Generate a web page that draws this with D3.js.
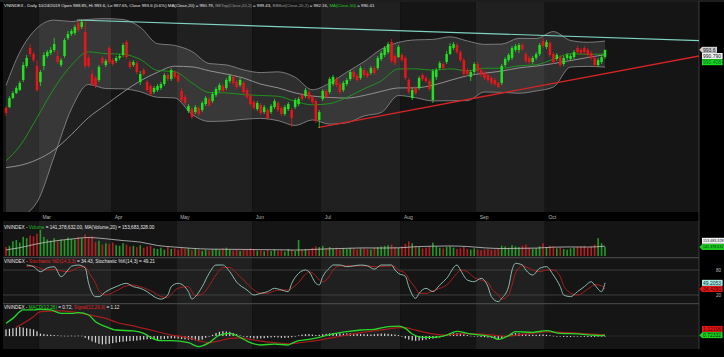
<!DOCTYPE html>
<html><head><meta charset="utf-8">
<script src="https://cdn.jsdelivr.net/npm/d3@7"></script>
<style>html,body{margin:0;padding:0;background:#000;}svg{display:block;font-family:"Liberation Sans",Arial,sans-serif;}</style>
</head><body><svg id="c" width="724" height="357"></svg>
<script>
// ---------- DATA (VNINDEX daily, 15 Feb 2019 .. 24 Oct 2019, index = trading day) ----------
const open=[955.0,955.6,961.6,964.9,966.9,973.6,982.9,994.8,990.8,982.9,972.2,982.9,989.5,991.5,993.5,989.5,983.5,989.5,1001.4,1004.1,1004.7,1011.4,1008.7,1005.4,988.2,977.5,974.9,973.6,988.2,983.5,994.8,986.8,986.2,988.2,990.2,998.8,985.5,983.5,984.8,972.2,980.2,972.2,969.6,965.6,966.9,968.3,970.9,976.9,974.2,978.9,976.9,966.3,962.3,953.0,954.3,952.3,955.0,953.7,957.6,961.0,959.6,963.6,966.9,969.6,968.3,972.9,975.6,972.2,970.2,971.6,966.9,962.9,959.0,954.3,957.0,952.3,953.7,952.3,955.6,958.3,955.0,951.0,954.3,953.7,955.6,957.6,963.6,962.9,965.6,962.3,959.6,947.0,961.0,966.3,965.6,970.9,974.2,970.9,966.9,970.9,974.2,978.9,976.2,974.9,980.2,978.2,978.2,981.5,981.5,987.5,990.2,992.1,998.8,989.5,988.8,990.2,988.2,973.6,961.6,968.3,968.3,976.9,974.9,972.9,960.3,975.6,981.5,984.2,985.5,990.8,994.8,996.8,992.1,986.8,980.2,975.6,978.9,984.2,980.2,978.2,976.9,974.9,973.6,971.6,971.6,983.5,986.8,988.2,993.5,993.5,996.8,990.8,988.2,985.5,988.2,990.8,999.4,995.5,998.1,990.8,987.5,988.8,984.2,988.2,987.5,988.8,994.8,993.5,994.8,993.5,991.5,988.2,983.5,985.5,988.85];
const high=[956.3,962.9,966.3,969.6,972.9,985.5,990.2,997.4,992.1,986.8,980.2,992.1,993.5,995.5,1001.4,993.5,988.2,1001.4,1006.1,1007.4,1010.1,1013.4,1014.0,1012.1,990.2,980.2,976.2,983.5,989.5,987.5,996.1,988.2,989.5,990.8,998.1,1000.1,986.8,986.8,986.2,979.5,981.5,973.6,970.9,969.6,970.9,972.2,978.2,978.2,981.5,980.2,978.2,968.3,963.6,957.6,955.6,957.0,956.3,959.6,962.9,962.3,965.6,968.9,971.6,970.9,974.9,977.5,976.9,973.6,974.9,972.9,968.3,964.3,960.3,959.6,958.3,957.0,955.0,957.6,961.0,959.6,956.3,957.0,959.0,955.0,961.6,962.3,964.9,968.3,966.9,963.6,961.0,953.7,967.6,967.6,975.6,976.9,975.6,972.2,972.9,974.9,980.2,980.2,977.5,982.9,981.5,979.5,982.9,982.9,989.5,992.8,996.1,998.8,1000.8,990.8,996.8,991.5,989.5,974.9,968.3,969.6,976.2,978.2,976.2,974.2,980.9,981.5,986.2,985.5,992.8,998.1,998.8,998.1,993.5,988.2,981.5,980.2,985.5,985.5,981.5,979.5,978.2,976.2,974.9,972.2,984.2,988.8,991.5,996.1,997.4,998.1,998.1,992.1,989.5,989.5,992.1,998.1,1001.4,1000.1,999.4,992.1,991.5,990.2,989.5,991.5,990.8,993.5,996.1,994.8,996.1,994.8,992.8,989.5,988.2,990.2,993.6];
const low=[949.7,955.0,961.0,964.3,966.3,972.2,981.5,988.8,985.5,965.6,969.6,980.2,988.2,990.2,992.1,984.2,982.2,988.2,1000.1,1002.8,1003.4,1005.4,1007.4,981.5,981.5,969.6,968.3,972.2,983.5,982.2,984.2,982.9,984.8,986.8,988.8,987.5,980.9,982.2,977.5,970.2,976.2,965.6,962.9,964.3,965.6,966.9,969.6,972.9,972.9,974.2,971.6,959.0,957.0,951.7,947.7,951.0,949.7,952.3,956.3,955.6,958.3,962.3,965.6,964.9,966.9,971.6,970.2,967.6,968.9,964.3,961.0,956.3,953.7,953.0,950.3,951.0,947.0,951.0,954.3,952.3,949.7,949.7,953.0,942.4,954.3,956.3,959.6,961.6,960.3,957.6,945.0,941.7,959.6,961.0,964.3,969.6,968.9,964.3,965.6,969.6,972.9,974.2,972.2,973.6,975.6,974.9,976.9,976.9,980.2,986.2,988.8,990.8,984.8,983.5,988.2,985.5,973.6,964.3,960.3,963.6,966.9,972.9,971.6,966.3,958.3,973.6,980.2,980.2,984.2,990.2,993.5,990.8,985.5,976.2,976.2,972.9,977.5,978.2,975.6,973.6,972.2,970.2,969.6,968.3,970.2,982.2,985.5,986.8,992.1,991.5,992.8,984.8,984.2,984.2,986.8,989.5,994.8,994.1,988.8,984.2,986.2,982.2,982.9,986.8,986.2,987.5,990.8,990.2,990.8,988.8,986.8,982.2,982.2,984.2,987.65];
const close=[951.7,961.6,964.9,968.3,971.6,983.5,988.2,990.8,986.8,966.9,978.9,990.2,992.1,993.5,997.4,985.5,986.8,1000.1,1004.1,1006.1,1008.7,1006.7,1012.1,982.9,982.9,970.9,969.6,982.2,984.8,986.2,985.5,984.2,988.2,989.5,996.8,988.8,982.2,985.5,978.9,977.5,977.5,966.9,964.3,968.3,969.6,970.9,976.9,974.2,980.2,975.6,972.9,960.3,958.3,956.3,949.0,955.6,951.0,958.3,961.6,957.0,964.3,967.6,970.2,966.3,973.6,976.2,971.6,968.9,973.6,965.6,962.3,957.6,955.0,958.3,951.7,955.6,948.4,956.3,959.6,953.7,951.0,955.6,957.6,948.4,960.3,961.0,961.0,966.9,961.6,959.0,946.4,952.3,966.3,962.3,974.2,975.6,970.2,965.6,971.6,973.6,978.9,975.6,973.6,981.5,976.9,976.2,981.5,978.2,988.2,991.5,994.8,997.4,986.2,984.8,995.5,986.8,974.9,965.6,966.9,964.9,974.9,974.2,972.9,967.6,979.5,980.2,984.8,981.5,990.8,996.1,997.4,992.1,986.8,977.5,977.5,978.9,984.2,979.5,976.9,974.9,973.6,971.6,970.9,968.9,982.9,987.5,990.2,994.8,996.1,996.8,994.1,986.2,985.5,988.2,990.8,996.8,996.1,998.8,990.2,985.5,990.2,983.5,988.2,990.2,989.5,992.1,992.1,991.5,992.1,990.2,988.2,983.5,986.8,988.8,993.6];
// volume, millions of shares
const volume=[140,160,230,250,210,300,280,320,310,350,410,300,260,240,280,230,260,250,290,270,260,300,280,340,300,310,220,240,180,200,190,210,170,160,200,180,150,160,140,170,130,150,160,120,110,130,100,140,110,120,100,130,115,120,90,110,100,80,95,85,100,110,90,120,130,95,85,100,80,110,95,120,100,85,90,75,95,80,100,85,90,70,110,95,80,250,100,110,90,130,150,140,160,120,140,110,130,100,120,110,130,120,100,115,120,110,100,130,140,150,160,170,180,140,130,150,190,230,200,160,140,120,130,150,210,150,130,120,140,150,130,110,120,140,110,100,120,100,90,100,110,95,100,120,160,150,130,170,150,140,160,180,130,110,120,150,200,140,160,150,120,130,110,100,120,130,140,150,160,130,150,180,280,200,141.378632];
const monthLabels=["Mar","Apr","May","Jun","Jul","Aug","Sep","Oct"];
const monthStart=[10,31,50,72,92,115,137,157];
// overlays, read every ~5 sessions
const bandIdx=[0,4,9,14,19,24,29,34,39,44,49,54,59,64,69,74,79,84,89,94,99,104,109,114,119,124,129,134,139,144,149,154,159,164,169,174];
const ma20=[920.0,929.7,948.5,968.1,983.4,992.2,991.1,990.7,987.2,979.9,979.1,971.7,965.3,965.0,963.9,963.3,962.8,959.4,957.1,957.9,962.0,967.7,973.0,980.9,981.0,980.1,981.0,979.7,981.4,981.4,983.0,983.7,987.3,991.0,990.6,990.79];
const bbTop=[970.0,992.0,1008.0,1013.3,1012.4,1013.8,1014.3,1013.7,1008.6,997.7,996.5,992.5,984.5,983.6,980.3,978.5,979.0,975.4,967.1,971.5,978.8,985.7,994.0,998.5,1000.2,1000.5,1002.2,999.5,997.2,997.4,1001.2,1001.1,1005.7,999.8,998.6,999.43];
const bbBot=[885.0,883.7,892.5,922.9,954.4,970.6,967.9,967.7,965.8,962.1,961.7,950.9,946.1,946.4,947.5,948.1,946.6,943.4,947.1,944.3,945.2,949.7,952.0,963.3,961.8,959.7,959.8,959.9,965.6,965.4,964.8,966.3,968.9,982.2,982.6,982.16];
const ma50=[915.5,916.9,920.7,927.2,937.4,948.7,957.1,965.5,973.0,978.7,982.7,982.3,979.7,977.5,974.9,970.8,968.4,965.0,962.9,962.0,961.6,963.3,966.0,968.3,968.4,970.1,973.3,976.4,978.1,979.5,981.6,982.8,984.5,986.5,988.5,990.41];
const volMa=[95,130,190,235,266,290,270,242,218,165,140,120,108,105,103,100,98,93,102,113,120,127,125,128,146,154,157,149,128,117,120,124,139,142,140,153.683328];
const trendTeal=[[20.6,1013.4],[201.3,999.7]];
const trendRed=[[90.6,942.0],[201.3,989.5]];
const stochIdx=[6,8,10,12,14,16,18,19,21,23,24,26,27,29,32,35,37,39,41,43,45,47,48,50,53,54,55,57,59,61,63,65,67,70,72,74,76,78,80,82,83,85,87,88,90,91,92,94,95,97,99,101,103,105,107,109,112,113,114,116,117,119,120,122,124,126,128,131,132,134,136,138,140,141,143,144,146,147,148,150,151,153,155,157,159,161,162,164,166,168,170,171,173,174];
const stochK=[92,88,76,85,88,64,80,89,92,85,48,16,16,28,40,48,40,36,28,16,10,20,40,48,28,10,16,40,72,92,92,76,51,32,20,24,28,36,32,28,48,72,80,76,48,44,64,85,92,92,88,90,92,90,82,92,92,80,72,65,40,12,24,36,28,44,60,92,80,56,52,60,40,16,4,12,40,80,96,92,80,68,84,88,68,40,20,16,28,40,52,44,28,49.2053];
const stochD=[88,90,84,80,82,78,76,78,86,88,75,48,30,20,30,42,44,40,34,26,16,14,22,36,40,28,18,22,42,68,86,86,72,48,32,24,24,30,32,32,36,50,70,76,66,56,52,66,80,90,90,90,90,90,88,88,90,88,80,72,58,36,24,24,30,36,44,72,80,76,62,56,50,36,20,10,20,44,72,90,88,80,76,80,80,64,42,25,20,28,40,45,42,34.4291];
const macdIdx=[0,2,5,8,10,13,16,19,21,24,26,29,32,37,40,42,45,48,53,56,59,62,65,68,71,74,78,82,83,85,88,91,95,99,103,107,111,114,116,118,121,124,128,131,134,138,141,143,146,148,153,157,161,166,170,173,174];
const macd=[10.6,14.7,21.7,21.7,22.2,21.7,18.9,18.9,19.4,17.5,11.9,7.8,5.0,4.2,2.2,-1.1,-3.9,-3.9,-5.6,-8.9,-5.6,0.8,2.2,-1.1,-5.6,-7.5,-6.7,-7.5,-6.1,-3.9,-2.8,-1.1,1.7,3.6,5.0,5.6,7.8,8.3,6.4,1.7,-1.1,-1.1,0.8,3.9,2.2,0.8,-0.6,-2.8,0.3,3.6,3.1,4.4,2.2,1.7,0.8,0.3,0.72332];
const signalIdx=[3,8,10,16,21,26,29,32,37,42,48,53,56,59,62,65,68,71,74,78,82,85,88,91,95,99,103,107,111,114,116,118,121,124,128,131,134,138,141,143,146,148,153,157,161,166,170,173,174];
const signal=[7.2,16,20.3,21,19.5,16.5,14.7,11.5,8.5,5.0,0.8,-1.5,-4.0,-5.5,-4.0,-2.0,-1.5,-2.8,-4.2,-5.5,-6.5,-5.8,-4.6,-3.4,-1.3,0.8,2.8,4.2,5.8,7.0,7.0,5.6,3.5,1.8,0.8,1.6,2.0,1.6,0.9,0.2,-0.2,0.7,2.2,3.4,3.1,2.4,1.6,1.2,1.12106];
const hist=[5.5,6.0,6.5,7.0,7.5,7.0,6.5,6.0,5.5,4.0,2.0,1.6,1.2,1.0,0.8,0.5,0.3,0.2,0.2,0.3,0.2,0.3,0.2,-1.5,-3.0,-4.5,-5.5,-6.5,-7.0,-6.8,-6.5,-6.0,-5.5,-5.0,-4.8,-4.5,-4.2,-4.0,-3.8,-3.5,-3.0,-2.8,-2.6,-2.8,-3.0,-2.8,-2.5,-2.2,-2.0,-2.0,-2.2,-2.5,-2.8,-3.0,-3.2,-3.5,-3.8,-3.0,-1.5,-0.5,1.0,2.5,3.5,4.0,3.8,3.5,2.5,1.5,0.5,-0.3,-1.0,-1.5,-2.0,-2.2,-2.0,-1.8,-1.5,-1.2,-1.0,-1.2,-1.5,-1.6,-1.4,-1.0,-0.5,0.5,1.2,1.5,1.6,1.2,0.8,1.0,1.5,1.8,2.2,2.5,2.4,2.2,2.0,2.2,2.3,2.0,1.8,1.6,1.5,1.4,1.3,1.5,1.8,2.0,2.0,1.8,1.5,1.2,0.8,-0.5,-2.0,-3.0,-3.8,-4.0,-3.8,-3.5,-3.0,-2.6,-2.2,-1.8,-1.2,-0.5,0.5,1.5,2.2,2.5,2.2,1.5,0.8,0.2,-0.3,-0.5,-0.8,-1.0,-1.2,-1.5,-2.0,-2.5,-1.8,-0.5,0.8,1.8,2.5,2.2,1.8,1.5,1.2,1.0,1.0,1.2,1.3,1.0,0.6,0.2,-0.2,-0.5,-0.8,-0.9,-0.8,-0.6,-0.5,-0.6,-0.7,-0.8,-0.8,-0.7,-0.6,-0.5,-0.4];

// ---------- LAYOUT ----------
const svg=d3.select("#c");
const xL=3, xR=699, N=close.length;
const P={main:[2,212],vol:[221,257.5],sto:[258,303.5],macd:[304,349]};
const x=d3.scaleLinear().domain([0,N-1]).range([6,605]);
const yP=d3.scaleLinear().domain([886,1024]).range([212,4]);
const yV=d3.scaleLinear().domain([0,400]).range([256,230.5]);
const yS=d3.scaleLinear().domain([0,100]).range([303.3,261.7]);
const yM=d3.scaleLinear().domain([-10,22]).range([348,309.6]);
const G="#22e022", R="#e8161b";

svg.append("rect").attr("width",724).attr("height",357).attr("fill","#000");
const bounds=[xL,...monthStart.map(s=>x(s)-1.7),xR];
Object.values(P).forEach(([t,b])=>{
  for(let k=0;k<bounds.length-1;k++){
    svg.append("rect").attr("x",bounds[k]).attr("y",t).attr("width",bounds[k+1]-bounds[k]).attr("height",b-t)
      .attr("fill",k%2?"#202020":"#151515");
  }
});
svg.append("line").attr("x1",0).attr("x2",724).attr("y1",1).attr("y2",1).attr("stroke","#3a3a3a");
[257.7,303.7].forEach(y=>svg.append("line").attr("x1",xL).attr("x2",xR).attr("y1",y).attr("y2",y).attr("stroke","#5a5a5a").attr("stroke-width",0.9));
[80,20].forEach(v=>svg.append("line").attr("x1",xL).attr("x2",xR).attr("y1",yS(v)).attr("y2",yS(v)).attr("stroke","#474747").attr("stroke-width",0.8));
svg.append("line").attr("x1",xR).attr("x2",xR).attr("y1",1).attr("y2",349).attr("stroke","#4a4a4a").attr("stroke-width",0.8);

const defs=svg.append("defs");
defs.append("clipPath").attr("id","cm").append("rect").attr("x",xL).attr("y",P.main[0]).attr("width",xR-xL).attr("height",P.main[1]-P.main[0]);
const gm=svg.append("g").attr("clip-path","url(#cm)");
const curve=d3.curveMonotoneX;

// Bollinger band
const bandPts=bandIdx.map((i,k)=>({i,t:bbTop[k],b:bbBot[k],m20:ma20[k],m50:ma50[k]}));
gm.append("path").datum(bandPts).attr("d",d3.area().curve(curve).x(d=>x(d.i)).y0(d=>yP(d.b)).y1(d=>yP(d.t)))
  .attr("fill","rgba(255,255,255,0.11)");
const ln=(key)=>d3.line().curve(curve).x(d=>x(d.i)).y(d=>yP(d[key]));
gm.append("path").datum(bandPts).attr("d",ln("t")).attr("fill","none").attr("stroke","#8f8f8f").attr("stroke-width",0.8);
gm.append("path").datum(bandPts).attr("d",ln("b")).attr("fill","none").attr("stroke","#8f8f8f").attr("stroke-width",0.8);
gm.append("path").datum(bandPts).attr("d",ln("m50")).attr("fill","none").attr("stroke","#a8a8a8").attr("stroke-width",0.8);
gm.append("path").datum(bandPts).attr("d",ln("m20")).attr("fill","none").attr("stroke","#1c9c1c").attr("stroke-width",0.9);

// trend lines
const tl=d3.line().x(d=>x(d[0])).y(d=>yP(d[1]));
gm.append("path").datum(trendTeal).attr("d",tl).attr("stroke","#7fd3c1").attr("stroke-width",1.1).attr("fill","none");
gm.append("path").datum(trendRed).attr("d",tl).attr("stroke","#d42424").attr("stroke-width",1.3).attr("fill","none");

// candles
const idx=d3.range(N);
const up=i=>close[i]>=open[i];
gm.selectAll("line.w").data(idx).join("line").attr("x1",i=>x(i)).attr("x2",i=>x(i))
  .attr("y1",i=>yP(high[i])).attr("y2",i=>yP(low[i])).attr("stroke",i=>up(i)?G:R).attr("stroke-width",0.8);
gm.selectAll("rect.b").data(idx).join("rect").attr("x",i=>x(i)-1.25).attr("width",2.5)
  .attr("y",i=>yP(Math.max(open[i],close[i]))).attr("height",i=>Math.max(0.8,Math.abs(yP(open[i])-yP(close[i]))))
  .attr("fill",i=>up(i)?G:R);

// month axis
monthLabels.forEach((m,k)=>svg.append("text").attr("x",x(monthStart[k])+2).attr("y",218.6).attr("font-size",5).attr("fill","#b4b4b4").text(m));

// volume
svg.selectAll("rect.v").data(idx).join("rect").attr("x",i=>x(i)-0.8).attr("width",1.6)
  .attr("y",i=>yV(volume[i])).attr("height",i=>yV(0)-yV(volume[i])).attr("fill",i=>up(i)?"#239a23":"#b81d1d");
svg.append("path").datum(bandIdx.map((i,k)=>[i,volMa[k]])).attr("d",d3.line().curve(curve).x(d=>x(d[0])).y(d=>yV(d[1])))
  .attr("fill","none").attr("stroke","#c4c4c4").attr("stroke-width",0.8);

// stochastic
const sK=stochIdx.map((i,k)=>[i,stochK[k]]), sD=stochIdx.map((i,k)=>[i,stochD[k]]);
const sl=d3.line().curve(curve).x(d=>x(d[0])).y(d=>yS(d[1]));
svg.append("path").datum(sD).attr("d",sl).attr("fill","none").attr("stroke","#a81e1e").attr("stroke-width",1);
svg.append("path").datum(sK).attr("d",sl).attr("fill","none").attr("stroke","#8fb8ae").attr("stroke-width",1);

// MACD
svg.append("line").attr("x1",xL).attr("x2",xR).attr("y1",yM(0)).attr("y2",yM(0)).attr("stroke","#333").attr("stroke-width",0.6);
svg.selectAll("rect.h").data(idx).join("rect").attr("x",i=>x(i)-0.6).attr("width",1.2)
  .attr("y",i=>Math.min(yM(0),yM(hist[i]))).attr("height",i=>Math.max(0.6,Math.abs(yM(hist[i])-yM(0)))).attr("fill","#d6d6d6");
const ml=d3.line().curve(curve).x(d=>x(d[0])).y(d=>yM(d[1]));
svg.append("path").datum(signalIdx.map((i,k)=>[i,signal[k]])).attr("d",ml).attr("fill","none").attr("stroke","#a61c1c").attr("stroke-width",1.2);
svg.append("path").datum(macdIdx.map((i,k)=>[i,macd[k]])).attr("d",ml).attr("fill","none").attr("stroke","#2bd62b").attr("stroke-width",1.3);

// headers (font size fitted to the reference width)
function header(y,parts,len){
  const t=svg.append("text").attr("x",4).attr("y",y).attr("font-size",5);
  parts.forEach(([s,c])=>t.append("tspan").attr("fill",c).text(s));
  const w=t.node().getComputedTextLength();
  t.attr("font-size",(5*len/w).toFixed(3));
}
const W1="#e6e6e6", GR="#9a9a9a";
header(6.9,[["VNINDEX - Daily 10/24/2019 Open 988.85, Hi 993.6, Lo 987.65, Close 993.6 (0.6%) MA(Close,20) = 990.79, ",W1],["BBTop(Close,20,2)",GR],[" = 999.43, ",W1],["BBBot(Close,20,2)",GR],[" = 982.16, ",W1],["MA(Close,50)","#22cc22"],[" = 990.41",W1]],371);
header(228.6,[["VNINDEX - ",W1],["Volume","#22bb22"],[" = 141,378,632.00, MA(Volume,20) = 153,683,328.00",W1]],151);
header(262.9,[["VNINDEX - ",W1],["Stochastic %D(14,3,3)","#e02525"],[" = 34.43, Stochastic %K(14,3) = 49.21",W1]],151);
header(308.7,[["VNINDEX - ",W1],["MACD(12,26)","#22cc22"],[" = 0.72, ",W1],["Signal(12,26,9)","#e02525"],[" = 1.12",W1]],116);

// right scale labels
[80,20].forEach(v=>svg.append("text").attr("x",716).attr("y",yS(v)+1.7).attr("font-size",4.6).attr("fill","#bdbdbd").text(v));
function tag(y,text,bg,fg,pointer,fs){
  fs=fs||5;
  const g=svg.append("g");
  const t=g.append("text").attr("x",xR+4).attr("y",y+fs*0.36).attr("font-size",fs).attr("fill",fg).text(text);
  const w=t.node().getComputedTextLength()+2.5;
  g.insert("rect","text").attr("x",xR+3).attr("y",y-3).attr("width",w).attr("height",6).attr("fill",bg);
  if(pointer) g.insert("path","text").attr("d",`M${xR+0.3},${y} L${xR+3.2},${y-3} L${xR+3.2},${y+3} Z`).attr("fill",bg);
}
const last=N-1, fmt=d3.format(",");
const yc=yP(close[last]), y20=Math.max(yP(ma20[ma20.length-1]),yc+6.2), y50=Math.max(yP(ma50[ma50.length-1]),y20+6.2);
tag(yc,String(close[last]),"#cfcfcf","#111",true);
tag(y20,ma20[ma20.length-1].toFixed(3),"#f2f2f2","#111",false);
tag(y50,"990.408","#18dc18","#063",false);
const yv=yV(volume[last]);
tag(yv-6.2,fmt(Math.round(volMa[volMa.length-1]*1e6)),"#f2f2f2","#111",false,3.7);
tag(yv,fmt(Math.round(volume[last]*1e6)),"#1fc81f","#031",true,3.7);
tag(yS(stochK[stochK.length-1]),stochK[stochK.length-1].toFixed(4),"#a9eee0","#124",false);
tag(Math.max(yS(stochD[stochD.length-1]),yS(stochK[stochK.length-1])+6.2),stochD[stochD.length-1].toFixed(4),"#e01515","#400",true);
const ymc=yM(macd[macd.length-1]);
tag(ymc-6.2,signal[signal.length-1].toFixed(5),"#e01515","#400",false);
tag(ymc,macd[macd.length-1].toFixed(5),"#1fd01f","#031",true);
</script></body></html>
